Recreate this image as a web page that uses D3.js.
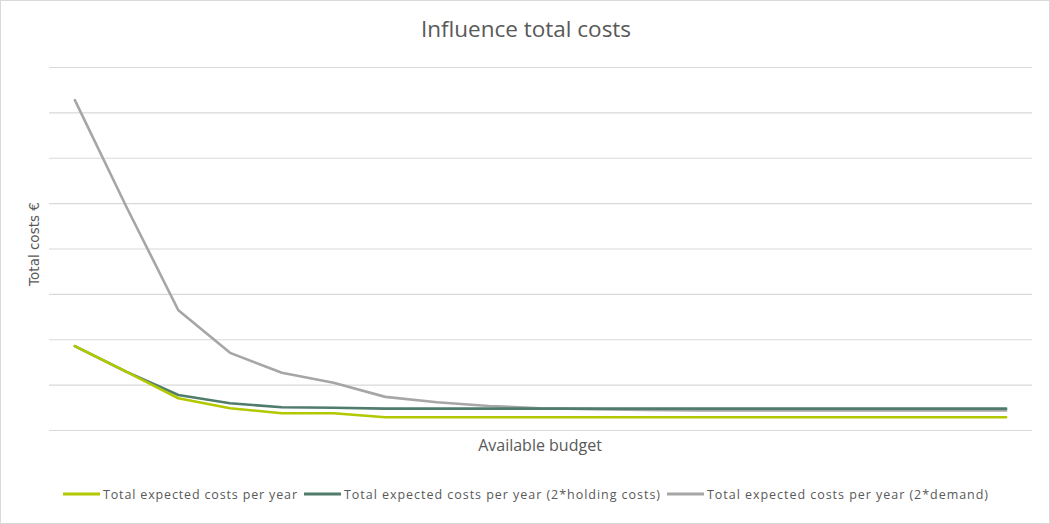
<!DOCTYPE html>
<html>
<head>
<meta charset="utf-8">
<script src="https://cdn.jsdelivr.net/npm/d3@7"></script>
<style>
  html, body { margin: 0; padding: 0; background: #fff; }
  svg { display: block; }
</style>
</head>
<body>
<svg id="chart" width="1050" height="524"></svg>
<script>
// Budget steps along the category axis (unlabelled in the chart)
const budgetSteps = d3.range(1, 20);

// Total costs per budget step (relative units, one gridline per unit)
const costsBase = [1.85, 1.28, 0.70, 0.48, 0.37, 0.37, 0.28, 0.28, 0.28, 0.28,
                   0.28, 0.28, 0.28, 0.28, 0.28, 0.28, 0.28, 0.28, 0.28];
const costsHolding = [1.85, 1.28, 0.77, 0.59, 0.50, 0.49, 0.47, 0.47, 0.47, 0.47,
                      0.47, 0.47, 0.47, 0.47, 0.47, 0.47, 0.47, 0.47, 0.47];
const costsDemand = [7.27, 4.91, 2.64, 1.70, 1.26, 1.04, 0.73, 0.61, 0.53, 0.48,
                     0.46, 0.44, 0.43, 0.43, 0.43, 0.43, 0.43, 0.43, 0.43];

const seriesNames = [
  "Total expected costs per year",
  "Total expected costs per year (2*holding costs)",
  "Total expected costs per year (2*demand)"
];
const seriesColors = ["#b2c800", "#4f7c6b", "#a6a6a6"];
const gridTicks = d3.range(0, 9);

const svg = d3.select("#chart");
const W = 1050, H = 524;
const plot = { left: 49, right: 1032, top: 67, bottom: 430 };

// outer frame
svg.append("rect")
  .attr("x", 0.5).attr("y", 0.5)
  .attr("width", W - 1).attr("height", H - 1)
  .attr("fill", "#fff").attr("stroke", "#d9d9d9");

const x = d3.scaleBand()
  .domain(budgetSteps)
  .range([plot.left, plot.right]);

const y = d3.scaleLinear()
  .domain([0, 8])
  .range([plot.bottom, plot.top]);

// horizontal gridlines
svg.append("g")
  .attr("transform", `translate(${plot.left},0)`)
  .call(d3.axisLeft(y).tickValues(gridTicks)
    .tickSize(-(plot.right - plot.left)).tickFormat(""))
  .call(g => g.select(".domain").remove())
  .call(g => g.selectAll(".tick line")
    .attr("stroke", "#d9d9d9").attr("stroke-width", 1.2));

// title
svg.append("text")
  .attr("x", 526).attr("y", 37)
  .attr("text-anchor", "middle")
  .attr("font-family", "Open Sans, sans-serif")
  .attr("font-size", 22.5)
  .attr("fill", "#595959")
  .text("Influence total costs");

// axis titles
svg.append("text")
  .attr("x", 540).attr("y", 451)
  .attr("text-anchor", "middle")
  .attr("font-family", "Open Sans, sans-serif")
  .attr("font-size", 16)
  .attr("fill", "#595959")
  .text("Available budget");

svg.append("text")
  .attr("transform", `translate(39,${244}) rotate(-90)`)
  .attr("text-anchor", "middle")
  .attr("font-family", "DejaVu Sans, sans-serif")
  .attr("font-size", 13.5)
  .attr("fill", "#595959")
  .text("Total costs €");

// series lines
const allSeries = [costsBase, costsHolding, costsDemand];
const line = d3.line()
  .x((d, i) => x(budgetSteps[i]) + x.bandwidth() / 2)
  .y(d => y(d));

// draw order: demand first, then holding, then base on top
[2, 1, 0].forEach(k => {
  svg.append("path")
    .datum(allSeries[k])
    .attr("fill", "none")
    .attr("stroke", seriesColors[k])
    .attr("stroke-width", 2.6)
    .attr("stroke-linejoin", "round")
    .attr("stroke-linecap", "round")
    .attr("d", line);
});

// legend: swatch + label, labels stretched to their set widths
const legendWidths = [194, 316, 281];
const legend = svg.append("g");
let lx = 63;
const ly = 494;
seriesNames.forEach((name, k) => {
  legend.append("line")
    .attr("x1", lx).attr("x2", lx + 37)
    .attr("y1", ly).attr("y2", ly)
    .attr("stroke", seriesColors[k])
    .attr("stroke-width", 3);
  legend.append("text")
    .attr("x", lx + 40).attr("y", ly + 4.5)
    .attr("font-family", "Open Sans, sans-serif")
    .attr("font-size", 12.5)
    .attr("fill", "#595959")
    .attr("textLength", legendWidths[k])
    .attr("lengthAdjust", "spacing")
    .text(name);
  lx = lx + 40 + legendWidths[k] + 7;
});
</script>
</body>
</html>
